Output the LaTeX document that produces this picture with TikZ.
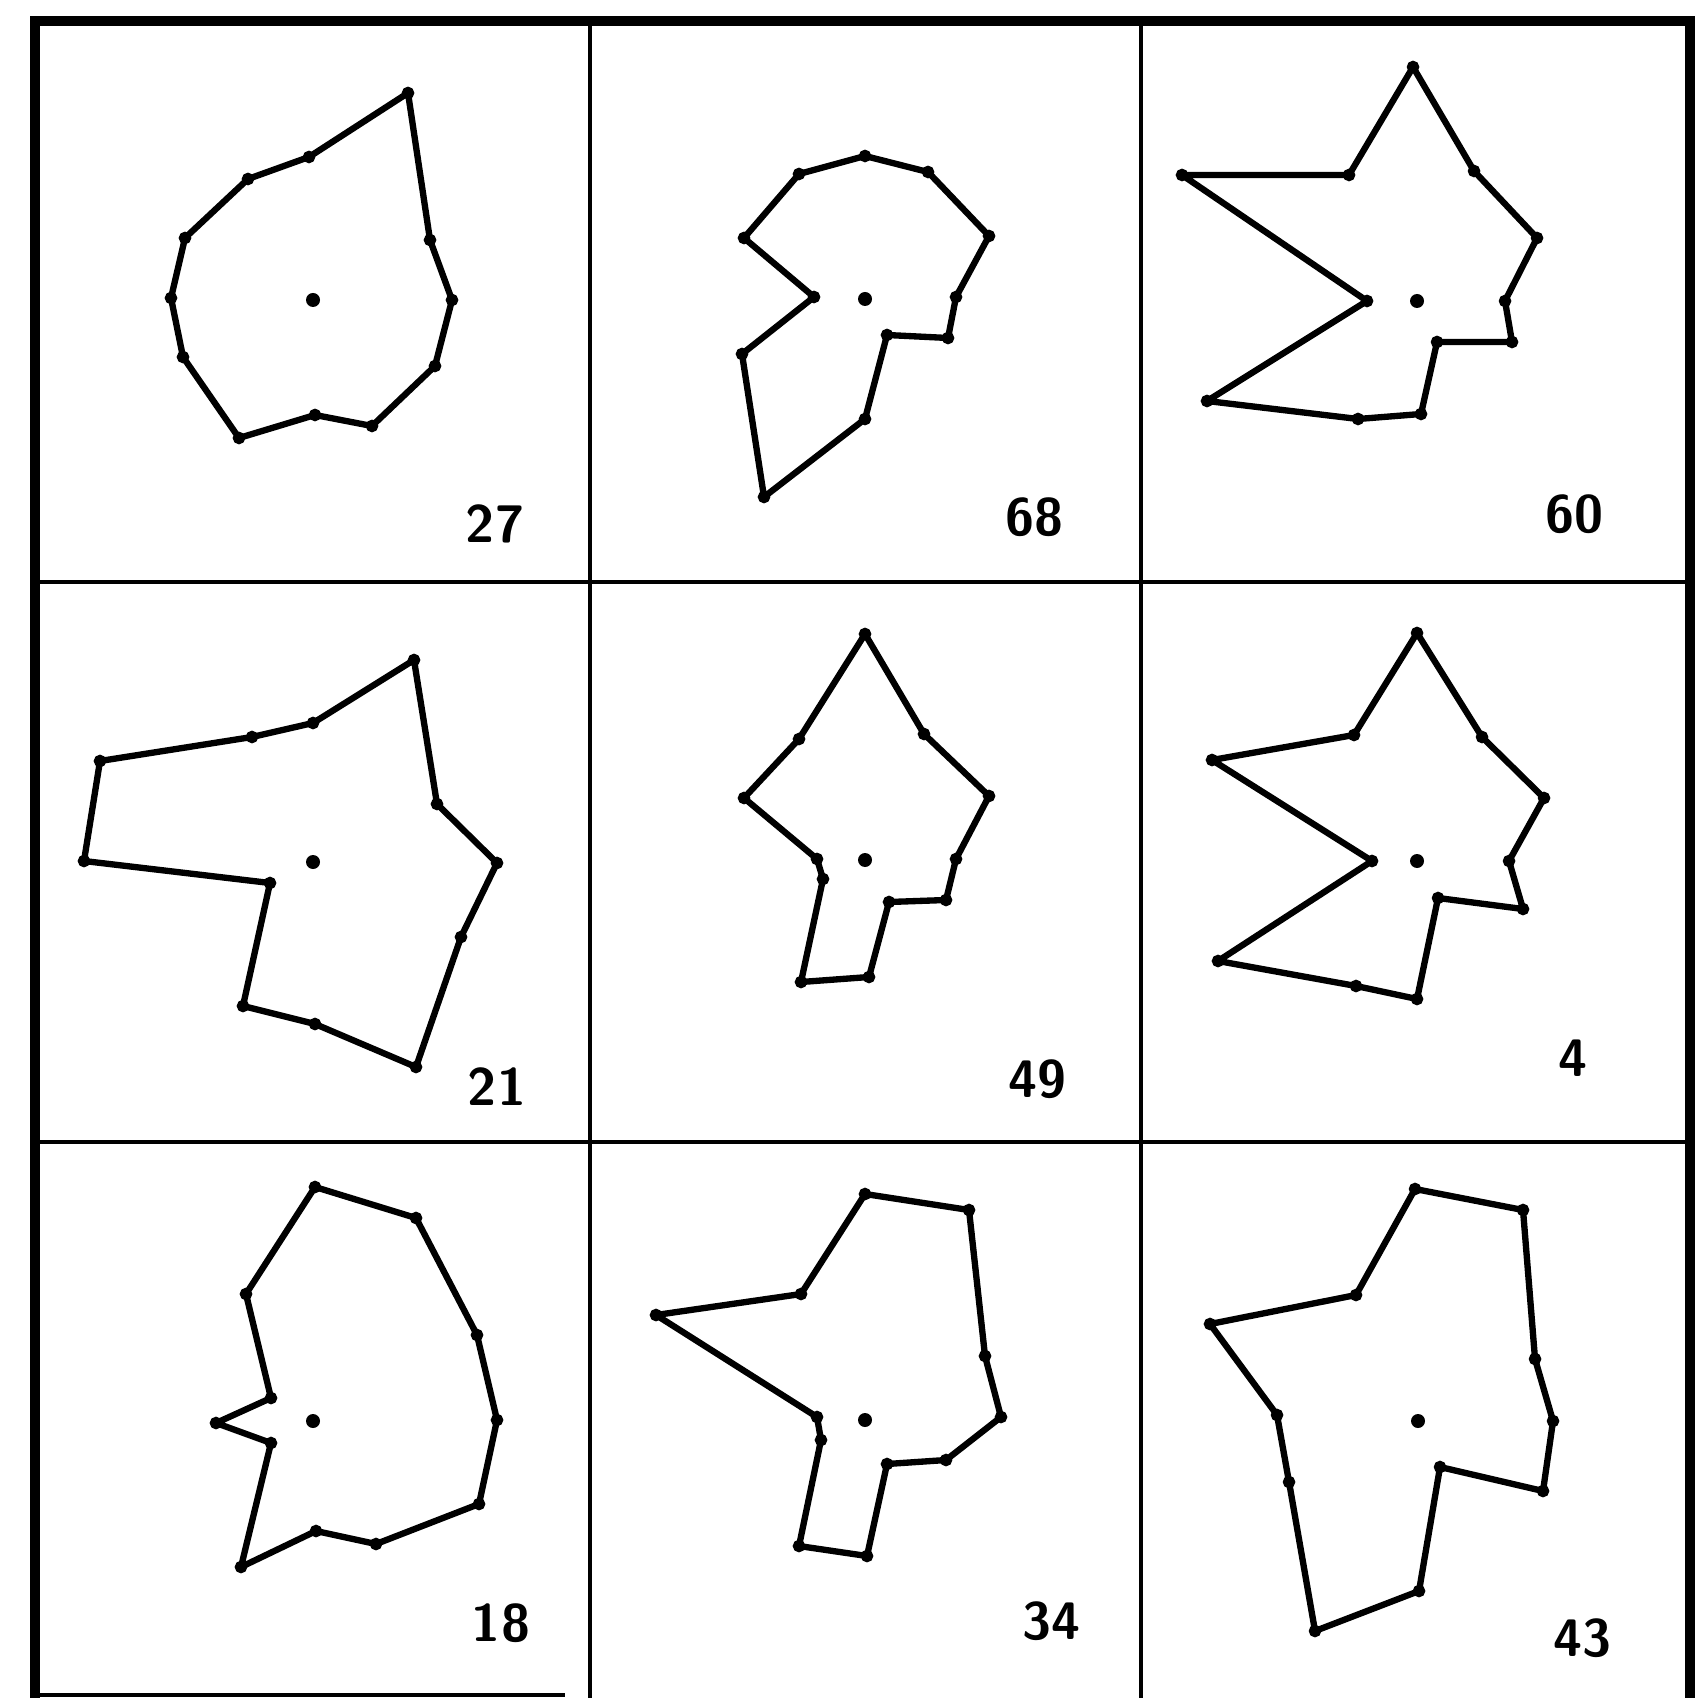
\documentclass[tikz,border=0pt]{standalone}
\usepackage{tikz}
\usetikzlibrary{arrows.meta,positioning}
\tikzset{
  frame/.style={line width=2.6pt,line cap=rect},
  rule/.style={line width=1.2pt},
  outline/.style={line width=1.8pt,line join=round},
  corner/.style={mark=*,mark size=1.6pt,mark options={solid,line width=0.4pt}},
  num/.style={font=\fontsize{15}{18}\selectfont\sffamily\bfseries,inner sep=0pt},
}

\begin{document}
\begin{tikzpicture}[x=0.01cm,y=-0.01cm]
    \useasboundingbox (0,0) rectangle (1698,1698);
    % grid
    \draw[frame] (35,1698) -- (35,21) -- (1690,21) -- (1690,1698);
    \draw[rule] (35,1695) -- (565,1695);
    \foreach \x in {590,1141} \draw[rule] (\x,21) -- (\x,1698);
    \foreach \y in {582,1142} \draw[rule] (35,\y) -- (1690,\y);
    % top row
    \draw[outline] plot[corner] coordinates {(452,300) (430,240) (408,93) (309,157) (248,179) (185,238) (171,298) (183,357) (239,438) (315,415) (372,426) (435,366)} -- cycle;
    \draw[outline] plot[corner] coordinates {(956,297) (989,236) (928,172) (865,156) (799,174) (744,238) (814,297) (742,354) (764,497) (865,419) (887,335) (948,338)} -- cycle;
    \draw[outline] plot[corner] coordinates {(1505,301) (1537,238) (1474,171) (1413,67) (1349,175) (1182,175) (1367,301) (1207,401) (1358,419) (1421,414) (1437,342) (1512,342)} -- cycle;
    % middle row
    \draw[outline] plot[corner] coordinates {(497,863) (437,804) (414,660) (313,723) (252,737) (100,761) (84,861) (270,883) (243,1006) (315,1024) (416,1067) (461,937)} -- cycle;
    \draw[outline] plot[corner] coordinates {(956,859) (989,796) (924,734) (865,634) (799,739) (744,798) (817,859) (823,879) (801,982) (869,977) (889,902) (946,900)} -- cycle;
    \draw[outline] plot[corner] coordinates {(1509,861) (1544,798) (1482,737) (1417,633) (1354,735) (1212,760) (1372,861) (1218,961) (1356,986) (1417,999) (1438,898) (1523,909)} -- cycle;
    % bottom row
    \draw[outline] plot[corner] coordinates {(497,1420) (477,1335) (416,1218) (315,1187) (246,1294) (271,1398) (216,1423) (271,1443) (241,1567) (316,1531) (376,1544) (479,1504)} -- cycle;
    \draw[outline] plot[corner] coordinates {(1001,1417) (985,1356) (969,1210) (865,1194) (801,1294) (656,1315) (817,1417) (821,1440) (799,1546) (867,1556) (887,1464) (946,1460)} -- cycle;
    \draw[outline] plot[corner] coordinates {(1553,1421) (1535,1359) (1523,1210) (1415,1189) (1356,1295) (1210,1324) (1277,1415) (1289,1482) (1315,1631) (1419,1591) (1440,1467) (1543,1491)} -- cycle;
    % centres and numbers
    \foreach \cx/\cy/\lx/\ly/\n in {313/300/495/524/27, 865/299/1034/517/68, 1417/301/1574/514/60,
      313/862/497/1087/21, 865/860/1037/1079/49, 1417/861/1573/1058/4,
      313/1421/501/1623/18, 865/1420/1051/1621/34, 1418/1421/1582/1638/43}{
      \fill (\cx,\cy) circle[radius=7];
      \node[num] (l\n) at (\lx,\ly) {\n};
    }
\end{tikzpicture}
\end{document}
